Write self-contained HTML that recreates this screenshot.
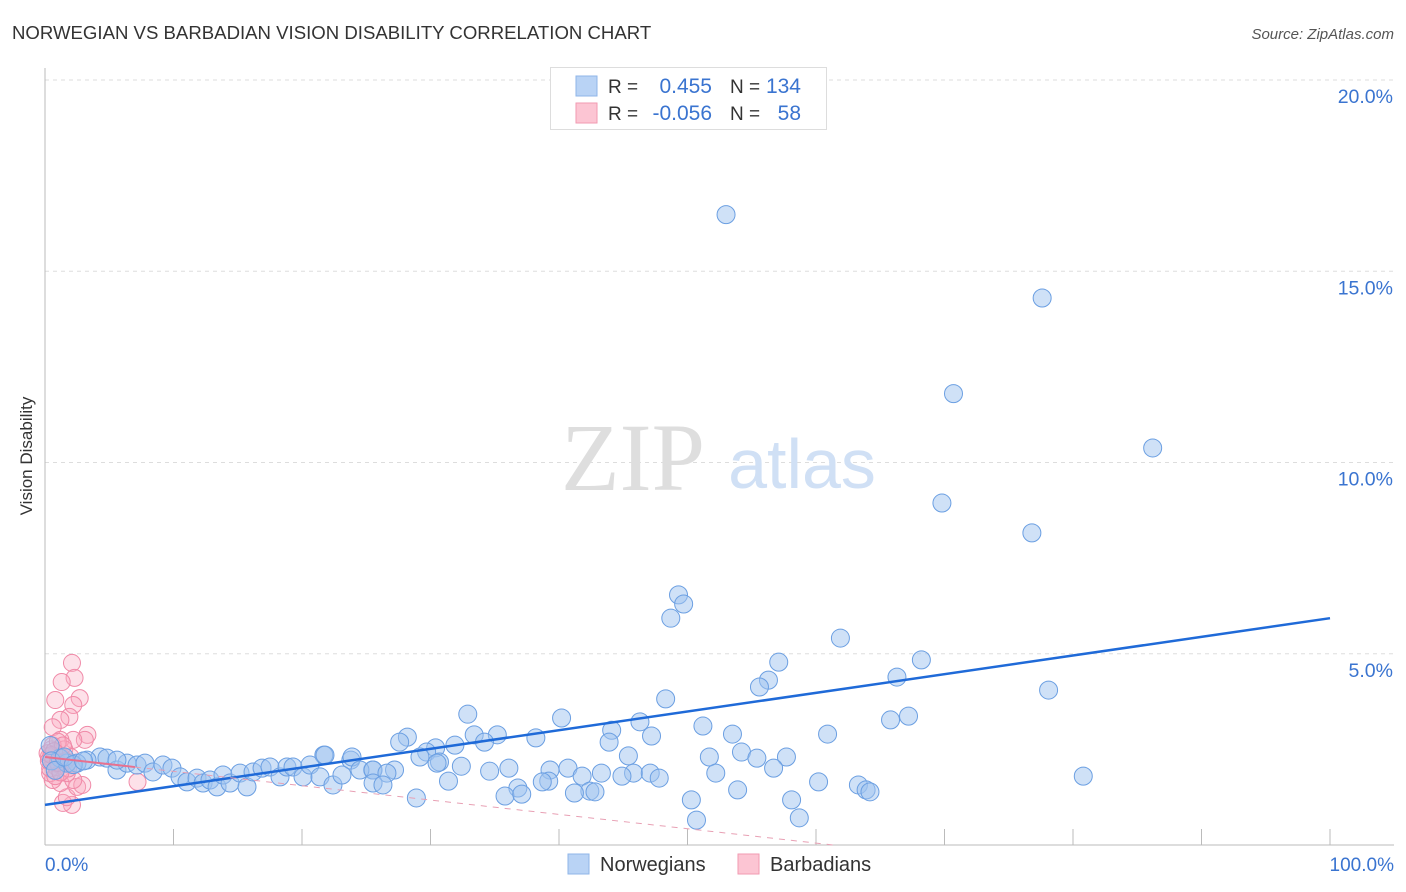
<!DOCTYPE html>
<html><head><meta charset="utf-8"><style>
body{margin:0;background:#fff;font-family:"Liberation Sans",sans-serif;}
svg{display:block}
</style></head><body>
<svg id="chart" width="1406" height="892">
<text x="12" y="39" font-size="18.6" fill="#333">NORWEGIAN VS BARBADIAN VISION DISABILITY CORRELATION CHART</text>
<text x="1394" y="39" font-size="15" fill="#555" font-style="italic" text-anchor="end">Source: ZipAtlas.com</text>
<text x="32" y="456" font-size="17" fill="#333" transform="rotate(-90 32 456)" text-anchor="middle">Vision Disability</text>
<g id="grid"></g>
<text x="633" y="490" font-size="96" fill="#dedede" font-family="Liberation Serif,serif" text-anchor="middle">ZIP</text>
<text x="802" y="488" font-size="70" fill="#d0e0f5" text-anchor="middle">atlas</text>
<g id="marks"></g>
<g>
<rect x="550.5" y="67.5" width="276" height="62" fill="#fff" stroke="#ddd"/>
<rect x="576" y="76" width="21" height="20" fill="#b9d3f5" stroke="#8fb6e8"/>
<rect x="576" y="103" width="21" height="20" fill="#fcc5d3" stroke="#f29ab2"/>
<text x="608" y="93" font-size="19" fill="#333">R =</text>
<text x="712" y="93" font-size="21" fill="#3a74d0" text-anchor="end">0.455</text>
<text x="730" y="93" font-size="19" fill="#333">N =</text>
<text x="801" y="93" font-size="21" fill="#3a74d0" text-anchor="end">134</text>
<text x="608" y="120" font-size="19" fill="#333">R =</text>
<text x="712" y="120" font-size="21" fill="#3a74d0" text-anchor="end">-0.056</text>
<text x="730" y="120" font-size="19" fill="#333">N =</text>
<text x="801" y="120" font-size="21" fill="#3a74d0" text-anchor="end">58</text>
</g>
<g>
<rect x="568" y="854" width="21" height="20" fill="#b9d3f5" stroke="#8fb6e8"/>
<text x="600" y="871" font-size="20" fill="#333">Norwegians</text>
<rect x="738" y="854" width="21" height="20" fill="#fcc5d3" stroke="#f29ab2"/>
<text x="770" y="871" font-size="20" fill="#333">Barbadians</text>
</g>
</svg>
<script>
const yTicks=[5,10,15,20];
const yTickLabels=["5.0%","10.0%","15.0%","20.0%"];
const xTickLabels=["0.0%","100.0%"];
const blueX=[53.0,77.6,70.7,86.2,69.8,76.8,49.3,49.7,48.7,61.9,57.1,68.2,56.3,55.6,66.3,78.1,48.3,32.9,67.2,65.8,40.2,46.3,51.2,33.4,35.2,28.2,44.1,60.9,53.5,47.2,38.2,43.9,27.6,34.2,31.9,54.2,30.4,29.7,45.4,51.7,57.7,55.4,21.7,23.8,30.7,32.4,36.1,40.7,39.3,34.6,25.5,27.2,56.7,52.2,45.8,47.1,43.3,41.8,44.9,47.8,80.8,31.4,39.2,38.7,60.2,63.3,63.9,64.2,36.8,53.9,42.4,42.8,41.2,35.8,37.1,28.9,50.3,58.1,50.7,58.7,4.28,4.82,5.6,6.38,7.16,7.78,8.4,9.18,9.88,10.51,11.05,11.83,12.3,12.84,13.39,13.85,14.4,15.18,15.72,16.19,16.89,17.51,18.29,18.83,19.3,20.08,20.62,21.4,21.79,22.41,23.11,23.89,24.51,25.53,26.61,25.53,26.3,29.18,30.51,3.27,2.49,1.71,1.17,5.6,0.4,0.5,0.8,1.5,2.2,3.0];
const blueY=[16.48,14.3,11.8,10.38,8.94,8.16,6.54,6.3,5.93,5.41,4.78,4.84,4.31,4.13,4.39,4.05,3.82,3.42,3.37,3.27,3.32,3.22,3.11,2.88,2.88,2.82,3.0,2.9,2.9,2.85,2.8,2.69,2.69,2.69,2.61,2.43,2.54,2.43,2.33,2.3,2.3,2.27,2.35,2.22,2.17,2.06,2.01,2.01,1.96,1.93,1.96,1.96,2.01,1.88,1.88,1.88,1.88,1.8,1.8,1.75,1.8,1.67,1.67,1.65,1.65,1.57,1.44,1.39,1.49,1.44,1.41,1.39,1.36,1.28,1.33,1.23,1.18,1.18,0.65,0.71,2.3,2.27,1.96,2.14,2.09,2.14,1.91,2.09,2.01,1.78,1.65,1.75,1.62,1.7,1.52,1.83,1.62,1.88,1.52,1.91,2.01,2.04,1.78,2.04,2.04,1.78,2.09,1.78,2.35,1.57,1.83,2.3,1.96,1.96,1.88,1.62,1.57,2.3,2.14,2.22,2.14,2.14,2.27,2.22,2.6,2.2,1.95,2.3,2.1,2.2];
const pinkX=[2.1,2.3,1.3,0.8,2.7,2.2,1.9,1.2,0.6,3.3,3.1,2.2,1.2,7.2,2.1,1.4,1.7,2.5,2.9,1.2,0.6,2.2,0.4,1.7,0.9,0.3,0.5,0.7,0.9,1.1,1.3,1.5,0.4,0.6,1.0,1.6,1.8,2.0,0.8,1.2,2.2,0.2,1.4,0.3,0.5,0.7,1.0];
const pinkY=[4.76,4.37,4.26,3.79,3.84,3.66,3.35,3.27,3.08,2.88,2.75,2.75,2.75,1.65,1.05,1.1,1.25,1.52,1.57,1.62,1.7,1.7,1.88,1.88,2.04,2.3,2.5,2.2,2.4,2.1,2.3,2.5,2.0,2.6,2.7,2.2,2.0,2.3,1.8,1.9,2.1,2.4,2.6,2.2,2.35,2.45,2.15];
const blueTrend=[1.05,5.93];
const pinkTrend=[2.3,-0.0375];
const NS="http://www.w3.org/2000/svg";
const X0=45,X1=1330,Y0=845,PPY=38.25;
const sx=v=>X0+(X1-X0)*v/100, sy=v=>Y0-v*PPY;
function mk(tag,attrs,parent){const e=document.createElementNS(NS,tag);for(const k in attrs)e.setAttribute(k,attrs[k]);parent.appendChild(e);return e;}
const grid=document.getElementById('grid'), marks=document.getElementById('marks');
yTicks.forEach((t,i)=>{
 const g=mk('line',{x1:X0,x2:1394,y1:sy(t),y2:sy(t),stroke:'#ddd','stroke-dasharray':'4,4'},grid);
 
 
 const l=mk('text',{x:1393,y:sy(t)+23,'font-size':19.5,fill:'#3a74d0','text-anchor':'end'},grid);
 l.textContent=yTickLabels[i];
 
 
});
const ax=mk('line',{x1:X0,x2:X0,y1:68,y2:Y0,stroke:'#bbb'},grid);


const bx=mk('line',{x1:X0,x2:1394,y1:Y0,y2:Y0,stroke:'#bbb'},grid);


for(let k=1;k<=10;k++){
 const t=mk('line',{x1:sx(k*10),x2:sx(k*10),y1:Y0-16,y2:Y0,stroke:'#bbb'},grid);
 
 
}
[[0,'start',0],[100,'end',1]].forEach(([v,a,i])=>{
 const l=mk('text',{x:i?1394:45,y:871,'font-size':19,fill:'#3a74d0','text-anchor':a},grid);
 l.textContent=xTickLabels[i];
 
 
});
pinkX.forEach((x,i)=>{
 const c=mk('circle',{cx:sx(x),cy:sy(pinkY[i]),r:8.5,fill:'rgba(248,170,192,0.35)',stroke:'#f08aa8','stroke-width':1},marks);
 
 
});
blueX.forEach((x,i)=>{
 const c=mk('circle',{cx:sx(x),cy:sy(blueY[i]),r:9,fill:'rgba(160,196,240,0.5)',stroke:'#6b9fe2','stroke-width':1},marks);
 
 
});
const bt=mk('line',{x1:sx(0),y1:sy(blueTrend[0]),x2:sx(100),y2:sy(blueTrend[1]),stroke:'#1f6ad8','stroke-width':2.5},marks);


const pf=x=>pinkTrend[0]+pinkTrend[1]*x;
const xEnd=-pinkTrend[0]/pinkTrend[1];
const ps=mk('line',{x1:sx(0),y1:sy(pf(0)),x2:sx(7),y2:sy(pf(7)),stroke:'#e8708f','stroke-width':2},marks);


const pd=mk('line',{x1:sx(7),y1:sy(pf(7)),x2:sx(xEnd),y2:sy(0),stroke:'#e8a0b4','stroke-width':1,'stroke-dasharray':'6,6'},marks);


</script>
</body></html>
